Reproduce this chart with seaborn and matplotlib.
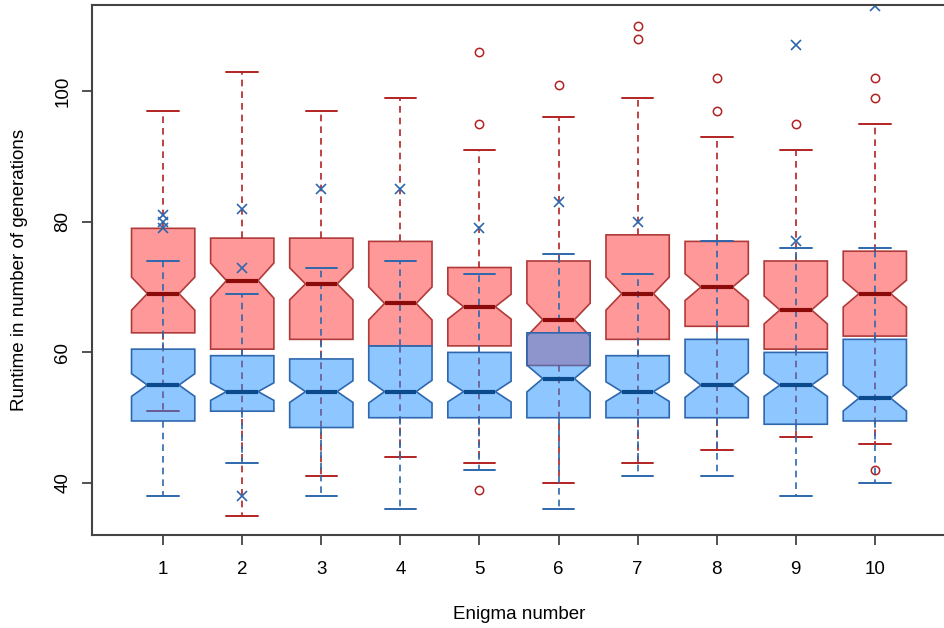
import numpy as np
import seaborn as sns
import matplotlib.pyplot as plt

# Enigma runtimes, two solver variants
enigmas = [1, 2, 3, 4, 5, 6, 7, 8, 9, 10]
n_runs = 100

red_q1 = [63, 60.5, 62, 61, 61, 58, 62, 64, 60.5, 62.5]
red_med = [69, 71, 70.5, 67.5, 67, 65, 69, 70, 66.5, 69]
red_q3 = [79, 77.5, 77.5, 77, 73, 74, 78, 77, 74, 75.5]
red_lo = [51, 35, 41, 44, 43, 40, 43, 45, 47, 46]
red_hi = [97, 103, 97, 99, 91, 96, 99, 93, 91, 95]
red_fliers = [[], [], [], [], [106, 95, 39], [101], [110, 108], [102, 97], [95], [102, 99, 42]]

blue_q1 = [49.5, 51, 48.5, 50, 50, 50, 50, 50, 49, 49.5]
blue_med = [55, 54, 54, 54, 54, 56, 54, 55, 55, 53]
blue_q3 = [60.5, 59.5, 59, 61, 60, 63, 59.5, 62, 60, 62]
blue_lo = [38, 43, 38, 36, 42, 36, 41, 41, 38, 40]
blue_hi = [74, 69, 73, 74, 72, 75, 72, 77, 76, 76]
blue_fliers = [[81, 80, 79], [82, 73, 38], [85], [85], [79], [83], [80], [], [107, 77], [113]]


def make_stats(q1, med, q3, lo, hi, fliers):
    stats = []
    for i in range(len(med)):
        half = 1.58 * (q3[i] - q1[i]) / np.sqrt(n_runs)  # R style notch
        stats.append(dict(med=med[i], q1=q1[i], q3=q3[i], whislo=lo[i], whishi=hi[i],
                          cilo=med[i] - half, cihi=med[i] + half, fliers=fliers[i]))
    return stats


sns.set_theme(style="white")
plt.rcParams['font.family'] = ['Liberation Sans', 'DejaVu Sans']
plt.rcParams['text.color'] = 'black'
plt.rcParams['axes.labelcolor'] = 'black'

fig = plt.figure(figsize=(9.44, 6.28), dpi=100)
ax = fig.add_axes([92 / 944, 93 / 628, 854 / 944, 530 / 628])

dash = (0, (4, 3))

# red series first, blue drawn on top
ax.bxp(make_stats(red_q1, red_med, red_q3, red_lo, red_hi, red_fliers),
       positions=enigmas, widths=0.8, shownotches=True, patch_artist=True,
       boxprops=dict(facecolor=(1, 0, 0, 0.4), edgecolor='#b03a3a', linewidth=1.2),
       whiskerprops=dict(color='#b22222', linestyle=dash, linewidth=1.2),
       capprops=dict(color='#b22222', linewidth=1.4),
       medianprops=dict(color='#8b0a0a', linewidth=3, solid_capstyle='butt'),
       flierprops=dict(marker='o', markerfacecolor='none', markeredgecolor='#b22222',
                       markersize=6, markeredgewidth=1.1))

ax.bxp(make_stats(blue_q1, blue_med, blue_q3, blue_lo, blue_hi, blue_fliers),
       positions=enigmas, widths=0.8, shownotches=True, patch_artist=True,
       boxprops=dict(facecolor=(30 / 255, 144 / 255, 1, 0.5), edgecolor='#2e67ad', linewidth=1.2),
       whiskerprops=dict(color='#2e67ad', linestyle=dash, linewidth=1.2),
       capprops=dict(color='#2e67ad', linewidth=1.4),
       medianprops=dict(color='#0b4a8c', linewidth=3, solid_capstyle='butt'),
       flierprops=dict(marker='x', markeredgecolor='#2e67ad', markersize=7,
                       markeredgewidth=1.2))

ax.set_xlim(0.1, 10.9)
ax.set_ylim(32.04, 113.2)
ax.set_xticks(enigmas)
ax.set_xticklabels([str(e) for e in enigmas], fontsize=13.5)
ax.set_yticks([40, 60, 80, 100])
ax.set_yticklabels(['40', '60', '80', '100'], fontsize=13.5, rotation=90, va='center')
ax.tick_params(axis='both', direction='out', length=7, width=1.3, color='#444444',
               labelcolor='black', left=True, bottom=True)
ax.tick_params(axis='x', pad=12)
ax.tick_params(axis='y', pad=8)

for s in ax.spines.values():
    s.set_color('#444444')
    s.set_linewidth(1.5)

ax.set_xlabel('Enigma number', fontsize=13.5, labelpad=20)
ax.set_ylabel('Runtime in number of generations', fontsize=13.5, labelpad=19)
ax.grid(False)

fig.savefig('out.png', dpi=100)
